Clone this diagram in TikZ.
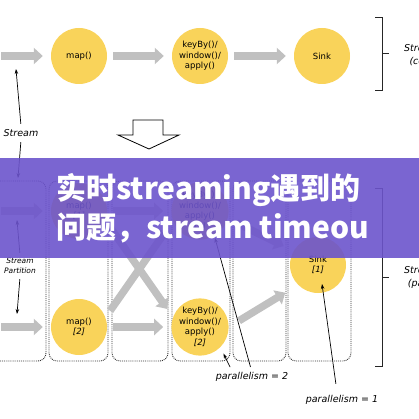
\documentclass[tikz,border=0pt]{standalone}
\usepackage{fontspec}
\setmainfont{DejaVu Sans}
\newfontfamily\cjkfont{Noto Sans CJK SC}
\usetikzlibrary{arrows.meta,calc}

\definecolor{opyellow}{RGB}{249,211,90}
\definecolor{flowgray}{RGB}{192,192,192}
\definecolor{bannerpurple}{RGB}{108,84,204}

\tikzset{
    operator/.style={circle, fill=opyellow, minimum size=56pt, inner sep=0pt, align=center, font=\fontsize{8.5}{10.5}\selectfont},
    flow/.style={draw=flowgray, line width=7.5pt, -{Triangle[width=16pt,length=9pt]}, shorten <=6pt, shorten >=8pt},
    subtaskbox/.style={densely dotted, line width=0.9pt, black!80, rounded corners=8pt},
    annot/.style={font=\fontsize{9.5}{13}\selectfont\itshape, align=center},
    annotarrow/.style={line width=0.7pt, -{Stealth[length=5pt,width=3.5pt]}, shorten <=2pt},
    viewbracket/.style={line width=0.8pt, black!85},
    bannertext/.style={text=white, inner sep=0pt, font=\cjkfont\bfseries\fontsize{30}{36}\selectfont},
}

\begin{document}
\begin{tikzpicture}[x=1pt, y=-1pt]
    \useasboundingbox (0,0) rectangle (419,419);
    \clip (0,0) rectangle (419,419);

    % condensed view
    \begin{scope}
        \pgfmathsetmacro{\yrow}{56}
        \node[operator] (mapc) at (79,\yrow) {map()};
        \node[operator] (keyc) at (200,\yrow) {keyBy()/\\window()/\\apply()};
        \node[operator] (sinkc) at (322,\yrow) {Sink};
        \coordinate (srcc) at (-5,\yrow);
        \draw[flow] (srcc) -- (mapc);
        \draw[flow] (mapc) -- (keyc);
        \draw[flow] (keyc) -- (sinkc);

        \node[annot] (stream) at (21,133) {Stream};
        \coordinate (streamup) at (16,69);
        \coordinate (streamdown) at (18,178);
        \draw[annotarrow] (stream.north) -- (streamup);
        \draw[annotarrow] (stream.south) -- (streamdown);

        \draw[viewbracket] (375,17) -- (382,17) -- (382,90) -- (375,90);
        \draw[viewbracket] (382,53) -- (389,53);
        \node[annot, anchor=west, inner sep=0pt] (condensed) at (404,55) {Streaming Dataflow\\(condensed view)};
    \end{scope}

    % big arrow between the views
    \draw[line width=0.8pt, fill=white] (133,120) -- (163,120) -- (163,135) -- (179,135) -- (149,149) -- (118,135) -- (133,135) -- cycle;

    % parallelized view
    \begin{scope}
        \pgfmathsetmacro{\rowa}{211}
        \pgfmathsetmacro{\rowb}{327}

        \foreach \l/\r in {-10/46,49/108,112/168,172/230,233/286,288/351} {
                \draw[subtaskbox] (\l,181) rectangle (\r,361);
            }

        \node[operator] (map1) at (79,\rowa) {map()\\\textit{[1]}};
        \node[operator] (map2) at (79,\rowb) {map()\\\textit{[2]}};
        \node[operator] (key1) at (200,\rowa) {keyBy()/\\window()/\\apply()\\\textit{[1]}};
        \node[operator] (key2) at (200,\rowb) {keyBy()/\\window()/\\apply()\\\textit{[2]}};
        \node[operator] (sink1) at (318,265) {Sink\\\textit{[1]}};

        \foreach \y/\m in {\rowa/map1,\rowb/map2} {
                \coordinate (part-\m) at (-5,\y);
                \draw[flow] (part-\m) -- (\m);
            }
        \draw[flow] (map1) -- (key1);
        \draw[flow] (map2) -- (key2);
        \draw[flow, shorten <=8pt, shorten >=10pt] (map1.-20) -- (key2.160);
        \draw[flow, shorten <=8pt, shorten >=10pt] (map2.20) -- (key1.-160);
        \draw[flow, shorten <=10pt, shorten >=11pt] (key1.-15) -- (sink1.150);
        \draw[flow, shorten <=12pt, shorten >=15pt] (key2.east) -- (sink1.-135);

        \node[annot, font=\fontsize{7.5}{9.5}\selectfont\itshape] (partition) at (20,266) {Stream\\Partition};
        \coordinate (partup) at (17,220);
        \coordinate (partdown) at (17,314);
        \draw[annotarrow] (partition.north) -- (partup);
        \draw[annotarrow] (partition.south) -- (partdown);

        \node[annot] (par2) at (252,377) {parallelism = 2};
        \draw[annotarrow, shorten >=7pt] ([xshift=-21pt]par2.north) -- (key2.-45);
        \draw[annotarrow, shorten >=2pt] ([xshift=-1pt]par2.north) -- (key1.-60);

        \node[annot] (par1) at (342,400) {parallelism = 1};
        \coordinate (sinkmark) at ($(sink1)+(4,19)$);
        \draw[annotarrow, shorten <=8pt] ([xshift=-5pt]par1.north) -- (sinkmark);

        \draw[viewbracket] (375,188) -- (382,188) -- (382,366) -- (375,366);
        \draw[viewbracket] (382,277) -- (389,277);
        \node[annot, anchor=west, inner sep=0pt] (parallel) at (404,277) {Streaming Dataflow\\(parallelized view)};
    \end{scope}

    % banner
    \fill[bannerpurple, opacity=0.9] (0,158) rectangle (419,258);
    \node[bannertext, anchor=west] (titlea) at (56,190) {实时streaming遇到的};
    \node[bannertext, anchor=west] (titleb) at (56,228) {问题，stream timeou};
\end{tikzpicture}
\end{document}
